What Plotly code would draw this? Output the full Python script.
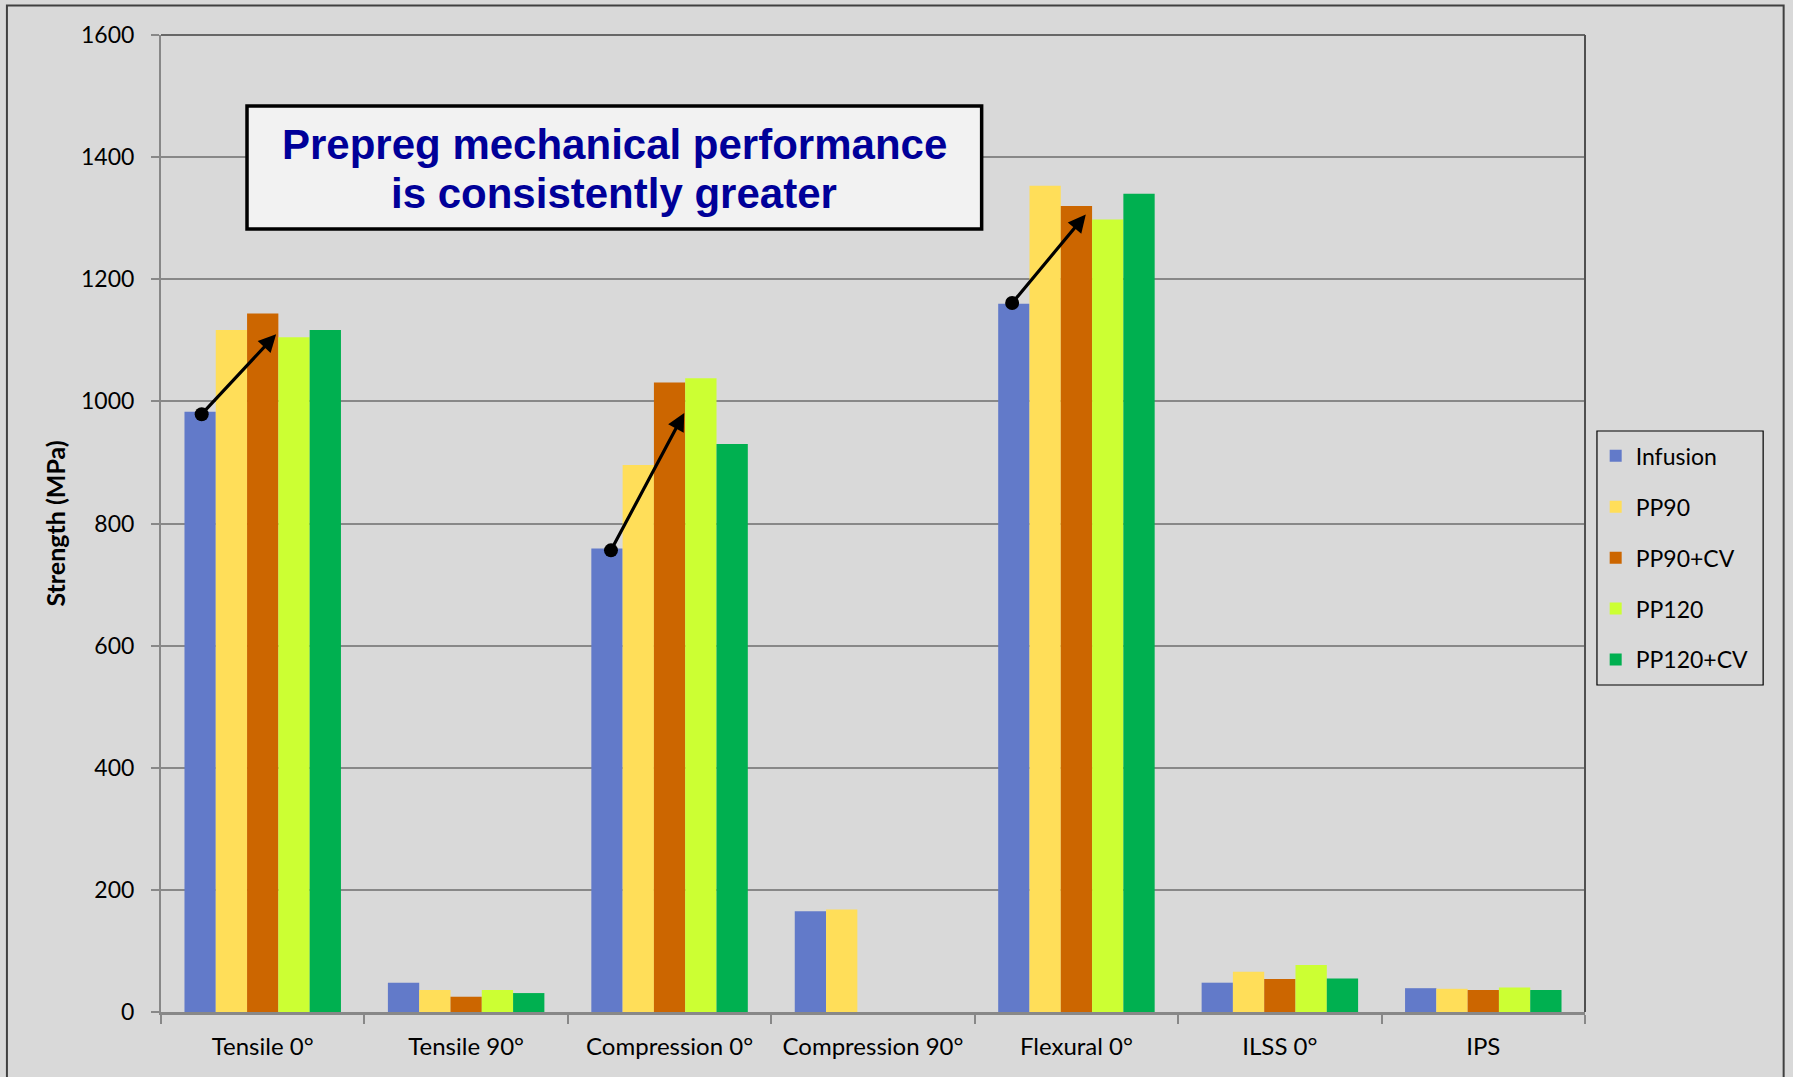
import plotly.graph_objects as go

categories = ["Tensile 0°", "Tensile 90°", "Compression 0°", "Compression 90°",
              "Flexural 0°", "ILSS 0°", "IPS"]
series_names = ["Infusion", "PP90", "PP90+CV", "PP120", "PP120+CV"]
infusion = [983, 48, 759, 165, 1160, 48, 39]
pp90 = [1117, 36, 896, 168, 1353, 66, 38]
pp90_cv = [1144, 25, 1031, None, 1320, 54, 36]
pp120 = [1105, 36, 1038, None, 1298, 77, 40]
pp120_cv = [1117, 31, 930, None, 1340, 55, 36]
series_values = [infusion, pp90, pp90_cv, pp120, pp120_cv]
colors = ["#627AC9", "#FFDE59", "#CC6600", "#CCFF33", "#00B050"]

# arrows: (category index, start offset, start value, end offset, end value)
arrow_cat = [0, 2, 4]
arrow_x0_off = [-0.300, -0.288, -0.316]
arrow_y0 = [979, 756, 1161]
arrow_x1_off = [0.066, 0.072, 0.046]
arrow_y1 = [1110, 981, 1306]

callout_lines = ["Prepreg mechanical performance", "is consistently greater"]

FONT = "Lato, Carlito, Calibri, sans-serif"
GRID = "#888888"

fig = go.Figure()
for name, vals, col in zip(series_names, series_values, colors):
    fig.add_trace(go.Bar(
        name=name, x=categories, y=vals, marker_color=col,
        marker_line_width=0, legendgroup=name,
    ))

# arrow start dots
fig.add_trace(go.Scatter(
    x=[c + o for c, o in zip(arrow_cat, arrow_x0_off)], y=arrow_y0,
    mode="markers", marker=dict(color="black", size=14),
    showlegend=False, hoverinfo="skip", xaxis="x2", yaxis="y",
))

annotations = []
for c, ox0, y0, ox1, y1 in zip(arrow_cat, arrow_x0_off, arrow_y0, arrow_x1_off, arrow_y1):
    annotations.append(dict(
        x=c + ox1, y=y1, ax=c + ox0, ay=y0, xref="x2", yref="y",
        axref="x2", ayref="y", showarrow=True, arrowhead=2, arrowsize=1.1,
        arrowwidth=3.2, arrowcolor="black", text="",
    ))

for line, ypos in zip(callout_lines, [0.8884, 0.8373]):
    annotations.append(dict(
        text=line, xref="paper", yref="paper", x=0.3183, y=ypos,
        xanchor="center", yanchor="middle", showarrow=False,
        font=dict(family="Liberation Sans, Arial, sans-serif", size=42, color="#000099",
                  weight="bold"),
    ))

shapes = [
    # outer chart border
    dict(type="rect", xref="paper", yref="paper", x0=-0.1082, x1=1.1395,
         y0=-0.2, y1=1.0302, line=dict(color="#404040", width=2), layer="below"),
    # plot area top and right border
    dict(type="line", xref="paper", yref="paper", x0=0, x1=1, y0=1, y1=1,
         line=dict(color="#404040", width=1.5)),
    dict(type="line", xref="paper", yref="paper", x0=1, x1=1, y0=0, y1=1,
         line=dict(color="#505050", width=2)),
    # callout box
    dict(type="rect", xref="paper", yref="paper", x0=0.0604, x1=0.5763,
         y0=0.8014, y1=0.9273, fillcolor="#F2F2F2", line=dict(color="black", width=3.5),
         layer="above"),
    # legend box
    dict(type="rect", xref="paper", yref="paper", x0=1.0084, x1=1.1251,
         y0=0.3347, y1=0.5947, line=dict(color="black", width=1.2)),
]

fig.update_layout(
    width=1793, height=1077,
    margin=dict(l=161, r=208, t=35, b=65),
    paper_bgcolor="#D9D9D9", plot_bgcolor="#D9D9D9",
    barmode="group", bargap=0.2308, bargroupgap=0,
    font=dict(family=FONT, size=22, color="black"),
    showlegend=True,
    legend=dict(
        x=1.0075, y=0.5912, xanchor="left", yanchor="top",
        borderwidth=0, bgcolor="rgba(0,0,0,0)",
        font=dict(family=FONT, size=23, color="black"),
        tracegroupgap=18, traceorder="grouped", itemwidth=30,
    ),
    xaxis=dict(
        type="category", showline=True, linecolor=GRID, linewidth=3,
        ticks="outside", tickson="boundaries", ticklen=9, tickcolor=GRID, tickwidth=2,
        showgrid=False, tickfont=dict(family=FONT, size=24), ticklabelstandoff=11,
    ),
    xaxis2=dict(overlaying="x", range=[-0.5, 6.5], visible=False),
    yaxis=dict(
        range=[0, 1600], dtick=200, showgrid=True, gridcolor=GRID, gridwidth=1.5,
        showline=True, linecolor=GRID, linewidth=2, ticks="outside", ticklen=8,
        tickcolor=GRID, tickwidth=2, zeroline=False,
        tickfont=dict(family=FONT, size=23), ticklabelstandoff=12,
        title=dict(text="<b>Strength (MPa)</b>", font=dict(family=FONT, size=25),
                   standoff=8),
    ),
    annotations=annotations, shapes=shapes,
)

fig.write_html("out.html")
